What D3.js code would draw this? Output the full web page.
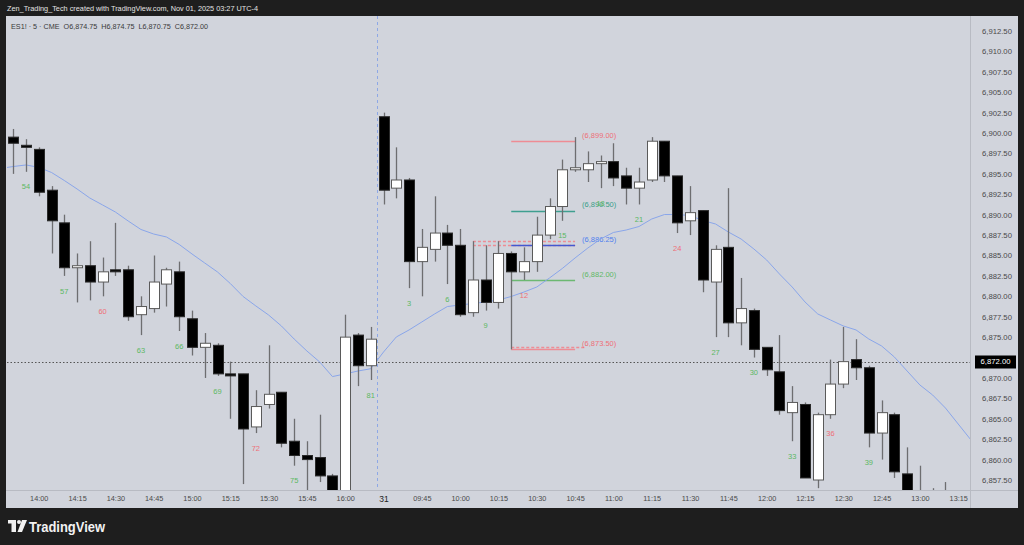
<!DOCTYPE html>
<html><head><meta charset="utf-8">
<script src="https://cdn.jsdelivr.net/npm/d3@7"></script>
<style>body{margin:0;background:#1e1e1e;} svg{display:block;font-family:"Liberation Sans",Arial,sans-serif;}</style>
</head><body><svg id="c" width="1024" height="545"></svg>
<script>
// ---- data (bar index 0 = Oct 30 13:50, 5-min bars; index 29 = Oct 31 09:30) ----
const open =[6899.5,6898.5,6898.0,6893.0,6889.0,6883.5,6883.75,6881.75,6883.25,6883.25,6877.75,6878.5,6881.5,6883.0,6877.25,6873.75,6874.0,6870.5,6870.5,6864.0,6866.75,6868.25,6862.25,6860.5,6860.25,6858.0,6854.75,6875.25,6871.5,
6902.0,6893.25,6894.25,6884.25,6885.75,6887.75,6886.25,6878.0,6882.0,6879.25,6885.25,6883.0,6884.25,6887.5,6891.0,6895.5,6895.5,6896.25,6896.5,6894.75,6893.25,6894.25,6899.0,6894.75,6889.25,6890.5,6881.75,6886.0,6876.75,6878.25,6873.75,6870.75,6865.75,6866.75,6857.5,6865.5,6869.25,6872.25,6871.25,6863.25,6865.5,6858.25,6855.5,6855.25,6854.75];
const high =[6900.5,6899.25,6898.25,6893.5,6890.0,6885.25,6886.75,6884.75,6889.0,6883.75,6880.0,6885.0,6883.5,6884.25,6878.25,6875.5,6874.25,6872.0,6870.5,6868.5,6874.0,6868.25,6865.0,6862.25,6865.5,6858.25,6877.75,6875.5,6876.25,
6902.5,6898.25,6894.5,6888.25,6892.25,6888.75,6888.25,6886.75,6886.25,6886.75,6885.5,6886.0,6889.75,6892.0,6896.75,6899.5,6897.75,6897.25,6898.75,6895.75,6895.75,6899.5,6899.0,6894.75,6893.5,6890.5,6886.25,6893.25,6882.25,6878.5,6873.75,6875.25,6869.0,6867.0,6865.75,6872.25,6876.25,6874.75,6871.5,6867.25,6865.75,6861.5,6859.25,6856.5,6857.25];
const low  =[6895.0,6895.25,6892.25,6885.25,6882.5,6879.25,6879.5,6880.0,6882.5,6877.0,6875.25,6878.0,6878.75,6875.75,6872.75,6870.0,6870.25,6865.0,6857.0,6863.25,6866.25,6861.5,6859.25,6855.5,6857.25,6854.5,6854.0,6869.0,6869.75,
6891.25,6892.0,6881.0,6880.0,6884.25,6881.5,6877.5,6877.5,6878.25,6878.5,6873.5,6882.0,6883.0,6887.0,6889.25,6895.25,6894.0,6893.25,6893.5,6891.25,6891.25,6894.0,6894.0,6887.75,6887.5,6880.5,6875.0,6875.0,6874.0,6872.5,6870.25,6865.5,6862.25,6857.75,6856.5,6865.0,6868.75,6869.75,6861.5,6860.0,6857.75,6853.75,6852.75,6853.0,6853.5];
const close=[6898.75,6898.25,6892.75,6889.25,6883.5,6883.75,6881.75,6883.0,6883.0,6877.5,6878.75,6881.75,6883.25,6877.5,6873.75,6874.25,6870.5,6870.25,6863.75,6866.5,6868.0,6862.0,6860.5,6860.0,6858.0,6855.0,6875.0,6871.5,6874.75,
6893.0,6894.25,6884.25,6886.0,6887.75,6886.25,6877.75,6882.0,6879.25,6885.25,6883.0,6884.25,6887.5,6891.0,6895.5,6895.75,6896.25,6896.5,6894.5,6893.25,6894.0,6899.0,6894.75,6889.0,6890.25,6882.0,6885.75,6876.75,6878.5,6873.5,6871.0,6866.0,6867.0,6857.75,6865.5,6869.25,6872.0,6871.25,6863.25,6865.75,6858.5,6854.5,6854.0,6854.0,6855.5];
// moving average, bar index -1 .. 75
const maStart = -1;
const ma=[6895.66,6895.9,6896.09,6895.8,6895.17,6894.19,6893.15,6892.04,6891.19,6890.33,6889.23,6888.19,6887.63,6887.27,6886.35,6885.19,6884.08,6882.98,6881.57,6879.98,6878.82,6877.71,6876.37,6874.77,6873.3,6871.96,6870.17,6870.5,6870.85,6871.13,6873.18,6875.02,6875.88,6876.86,6877.84,6878.75,6878.94,6879.12,6879.31,6879.55,6879.98,6880.53,6881.14,6882.25,6883.41,6884.7,6885.92,6887.02,6887.82,6888.12,6888.55,6889.47,6890.02,6890.02,6889.9,6889.29,6888.86,6887.88,6887.02,6885.8,6884.45,6882.74,6881.14,6879.31,6877.84,6877.1,6876.37,6875.88,6874.77,6873.92,6872.57,6870.85,6869.14,6867.91,6866.32,6864.36,6862.4];
const timeTickIdx =[2,5,8,11,14,17,20,23,26,29,32,35,38,41,44,47,50,53,56,59,62,65,68,71,74];
const timeTickText=["14:00","14:15","14:30","14:45","15:00","15:15","15:30","15:45","16:00","31","09:45","10:00","10:15","10:30","10:45","11:00","11:15","11:30","11:45","12:00","12:15","12:30","12:45","13:00","13:15"];
const priceTicks=[6857.5,6860,6862.5,6865,6867.5,6870,6872.5,6875,6877.5,6880,6882.5,6885,6887.5,6890,6892.5,6895,6897.5,6900,6902.5,6905,6907.5,6910,6912.5];
const barNumIdx =[1,4,7,10,13,16,19,22,28,31,34,37,40,43,46,49,52,55,58,61,64,67];
const barNumText=["54","57","60","63","66","69","72","75","81","3","6","9","12","15","18","21","24","27","30","33","36","39"];
const barNumRed =[0,0,1,0,0,0,1,0,0,0,0,0,1,0,0,0,1,0,0,0,1,0];
const levelPrice=[6899.00,6890.50,6886.25,6882.00,6873.50];
const levelText =["(6,899.00)","(6,890.50)","(6,886.25)","(6,882.00)","(6,873.50)"];
const levelFrom = 39, levelTo = 44;
const dashPrice=[6886.75,6886.25,6873.75];
const dashFrom =[36,36,39];
const lastPrice=6872.00;
const headerText="Zen_Trading_Tech created with TradingView.com, Nov 01, 2025 03:27 UTC-4";
const legendText="ES1! · 5 · CME  O6,874.75  H6,874.75  L6,870.75  C6,872.00";

// ---- layout ----
const svg=d3.select("#c");
const PL=7, PR=970, PT=16, PB=490;
const x=d3.scaleLinear().domain([0,74]).range([13.2,958.2]);
const y=d3.scaleLinear().domain([6857.5,6912.5]).range([480,31]);
const fmt=d3.format(",.2f");

svg.append("rect").attr("width",1024).attr("height",545).attr("fill","#1e1e1e");
svg.append("text").attr("x",7).attr("y",11).attr("fill","#e4e4e4").attr("font-size",8)
  .attr("textLength",251).attr("lengthAdjust","spacingAndGlyphs").text(headerText);
// panel
svg.append("rect").attr("x",6).attr("y",16).attr("width",1012).attr("height",492).attr("fill","#d1d4dc");
svg.append("line").attr("x1",PR+0.5).attr("x2",PR+0.5).attr("y1",16).attr("y2",508).attr("stroke","#b8bbc3");
svg.append("line").attr("x1",6).attr("x2",1018).attr("y1",PB+0.5).attr("y2",PB+0.5).attr("stroke","#b8bbc3");

svg.append("clipPath").attr("id","pc").append("rect").attr("x",PL).attr("y",PT).attr("width",PR-PL).attr("height",PB-PT);
const g=svg.append("g").attr("clip-path","url(#pc)");

// session break
const sbx=Math.round((x(28)+x(29))/2)+0.5;
g.append("line").attr("x1",sbx).attr("x2",sbx)
  .attr("y1",PT).attr("y2",PB).attr("stroke","#8ea8e6").attr("stroke-dasharray","3,3");
// last price dotted line
g.append("line").attr("x1",PL).attr("x2",PR).attr("y1",Math.round(y(lastPrice))+0.5).attr("y2",Math.round(y(lastPrice))+0.5)
  .attr("stroke","#555").attr("stroke-dasharray","1.5,2");

// level lines
const levelCol=["#ee8c94","#3f9f90","#4458d0","#6cb872","#ee8c94"];
const levelTxtCol=["#ee6f78","#3a9e88","#5080ee","#5fb866","#ee6f78"];
dashPrice.forEach((p,i)=>{
  g.append("line").attr("x1",x(dashFrom[i])).attr("x2",x(levelTo)+(i===2?10:0)).attr("y1",Math.round(y(p))+0.5).attr("y2",Math.round(y(p))+0.5)
   .attr("stroke","#ee8c94").attr("stroke-width",1.5).attr("stroke-dasharray","3,2");
});
levelPrice.forEach((p,i)=>{
  const yy=Math.round(y(p))+0.5;
  g.append("line").attr("x1",x(levelFrom)).attr("x2",x(levelTo)).attr("y1",yy).attr("y2",yy)
   .attr("stroke",levelCol[i]).attr("stroke-width",1.5);
  g.append("text").attr("x",x(levelTo)+7).attr("y",y(p)-6).attr("dy","0.35em").attr("font-size",7.5)
   .attr("fill",levelTxtCol[i]).text(levelText[i]);
});

// moving average
const maLine=d3.line().x((d,i)=>x(i+maStart)).y(d=>y(d));
g.append("path").datum(ma).attr("d",maLine).attr("fill","none").attr("stroke","#8aa6ea").attr("stroke-width",1);

// candles
const idx=d3.range(open.length);
const cg=g.append("g");
cg.selectAll("line.w").data(idx).join("line").attr("class","w")
  .attr("x1",i=>Math.round(x(i))+0.5).attr("x2",i=>Math.round(x(i))+0.5)
  .attr("y1",i=>y(high[i])).attr("y2",i=>y(low[i]))
  .attr("stroke","#6e6e70").attr("stroke-width",1.3);
cg.selectAll("rect.b").data(idx).join("rect").attr("class","b")
  .attr("x",i=>Math.round(x(i))-4.5).attr("width",10)
  .attr("y",i=>y(Math.max(open[i],close[i])))
  .attr("height",i=>Math.max(1.5,Math.abs(y(open[i])-y(close[i]))))
  .attr("fill",i=>close[i]>=open[i]?"#ffffff":"#000000")
  .attr("stroke",i=>close[i]>=open[i]?"#5a5a5a":"#2a2a2a").attr("stroke-width",1);

// bar numbers
g.selectAll("text.n").data(barNumIdx).join("text").attr("class","n")
  .attr("x",i=>x(i)).attr("y",i=>y(low[i])+15).attr("dy","0.35em").attr("text-anchor","middle")
  .attr("font-size",7.5).attr("fill",(d,k)=>barNumRed[k]?"#ee6f78":"#5cb863").text((d,k)=>barNumText[k]);

// legend
svg.append("text").attr("x",11).attr("y",28.5).attr("fill","#3a3a3a").attr("font-size",7.5)
  .attr("textLength",197).attr("lengthAdjust","spacingAndGlyphs").attr("xml:space","preserve").text(legendText);

// price axis
const ay=svg.append("g").attr("transform",`translate(${PR},0)`)
  .call(d3.axisRight(y).tickValues(priceTicks).tickSize(0).tickPadding(12).tickFormat(fmt));
ay.select(".domain").remove();
ay.selectAll("text").attr("font-size",7.7).attr("fill","#4a4a4a").attr("font-family","Liberation Sans, Arial, sans-serif");
// last price tag
svg.append("rect").attr("x",975).attr("y",Math.round(y(lastPrice))-6.5).attr("width",41).attr("height",13).attr("fill","#000");
svg.append("text").attr("x",995.5).attr("y",y(lastPrice)).attr("dy","0.35em").attr("text-anchor","middle")
  .attr("font-size",7.7).attr("fill","#fff").text(fmt(lastPrice));

// time axis
const ax=svg.append("g").attr("transform",`translate(0,${PB})`)
  .call(d3.axisBottom(x).tickValues(timeTickIdx).tickSize(0).tickPadding(6).tickFormat((d,k)=>timeTickText[k]));
ax.select(".domain").remove();
ax.selectAll("text").attr("font-size",7.3).attr("fill","#4a4a4a").attr("font-family","Liberation Sans, Arial, sans-serif")
  .filter((d,k)=>timeTickText[k]==="31").attr("font-size",8.5).attr("fill","#222");

// TradingView logo
const lg=svg.append("g").attr("fill","#f2f2f2");
lg.append("rect").attr("x",8).attr("y",520).attr("width",8).attr("height",3.5);
lg.append("rect").attr("x",11.5).attr("y",520).attr("width",4.5).attr("height",12);
lg.append("circle").attr("cx",19).attr("cy",522).attr("r",2);
lg.append("path").attr("d","M22,520 L27,520 L22,532 L17.5,532 Z");
svg.append("text").attr("x",29).attr("y",531.5).attr("fill","#f2f2f2").attr("font-size",14).attr("font-weight","bold")
  .attr("textLength",76).attr("lengthAdjust","spacingAndGlyphs").text("TradingView");
</script></body></html>
